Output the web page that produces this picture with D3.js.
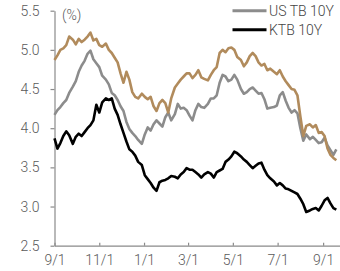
<!DOCTYPE html>
<html><head><meta charset="utf-8">
<script src="https://cdn.jsdelivr.net/npm/d3@7"></script>
<style>
html,body{margin:0;padding:0;background:#fff;}
svg{display:block;}
</style></head>
<body>
<svg id="chart" width="340" height="271"></svg>
<script>
const dates = ["2023-09-01","2023-09-05","2023-09-09","2023-09-13","2023-09-17","2023-09-21","2023-09-26","2023-09-30","2023-10-04","2023-10-08","2023-10-12","2023-10-16","2023-10-20","2023-10-24","2023-10-28","2023-11-01","2023-11-05","2023-11-10","2023-11-14","2023-11-18","2023-11-22","2023-11-26","2023-11-30","2023-12-04","2023-12-08","2023-12-12","2023-12-16","2023-12-20","2023-12-24","2023-12-29","2024-01-02","2024-01-06","2024-01-10","2024-01-14","2024-01-18","2024-01-22","2024-01-26","2024-01-30","2024-02-03","2024-02-07","2024-02-12","2024-02-16","2024-02-20","2024-02-24","2024-02-28","2024-03-03","2024-03-07","2024-03-11","2024-03-15","2024-03-19","2024-03-23","2024-03-28","2024-04-01","2024-04-05","2024-04-09","2024-04-13","2024-04-17","2024-04-21","2024-04-25","2024-04-29","2024-05-03","2024-05-07","2024-05-12","2024-05-16","2024-05-20","2024-05-24","2024-05-28","2024-06-01","2024-06-05","2024-06-09","2024-06-13","2024-06-17","2024-06-21","2024-06-26","2024-06-30","2024-07-04","2024-07-08","2024-07-12","2024-07-16","2024-07-20","2024-07-24","2024-07-28","2024-08-01","2024-08-05","2024-08-09","2024-08-14","2024-08-18","2024-08-22","2024-08-26","2024-08-30","2024-09-03","2024-09-07","2024-09-11","2024-09-15","2024-09-19"];

const usTb10y = [4.17,4.23,4.27,4.32,4.36,4.45,4.53,4.60,4.72,4.80,4.86,4.95,4.99,4.88,4.83,4.78,4.67,4.62,4.56,4.45,4.42,4.36,4.28,4.22,4.08,3.99,3.94,3.90,3.85,3.80,3.92,4.01,3.97,4.05,4.10,4.06,4.02,4.14,4.20,4.10,4.18,4.31,4.25,4.26,4.23,4.16,4.10,4.23,4.31,4.27,4.26,4.31,4.38,4.38,4.42,4.58,4.68,4.66,4.60,4.62,4.68,4.62,4.50,4.44,4.46,4.50,4.52,4.48,4.44,4.45,4.37,4.25,4.26,4.27,4.29,4.42,4.46,4.35,4.26,4.20,4.23,4.19,4.00,3.84,3.92,3.86,3.89,3.85,3.81,3.82,3.88,3.78,3.72,3.66,3.73];

const usTb2y = [4.87,4.93,5.00,5.02,5.06,5.17,5.13,5.07,5.14,5.10,5.13,5.17,5.22,5.12,5.14,5.06,5.04,5.08,5.00,4.96,4.90,4.84,4.70,4.58,4.72,4.62,4.46,4.40,4.38,4.44,4.40,4.37,4.40,4.28,4.22,4.32,4.36,4.32,4.20,4.38,4.52,4.57,4.62,4.66,4.70,4.70,4.64,4.68,4.74,4.65,4.63,4.61,4.68,4.74,4.78,4.96,5.00,4.97,5.02,5.03,5.00,4.91,4.87,4.79,4.84,4.92,4.96,4.92,4.84,4.80,4.82,4.74,4.76,4.72,4.69,4.74,4.66,4.60,4.55,4.50,4.49,4.42,4.15,3.90,4.03,4.05,4.01,4.04,3.94,3.95,3.90,3.74,3.66,3.62,3.59];

const ktb10y = [3.87,3.74,3.81,3.90,3.96,3.91,3.80,3.89,3.93,3.90,3.95,4.00,4.04,4.10,4.30,4.20,4.33,4.38,4.36,4.38,4.25,4.17,4.05,3.94,3.83,3.73,3.70,3.65,3.57,3.53,3.40,3.35,3.30,3.24,3.20,3.31,3.33,3.34,3.36,3.39,3.38,3.36,3.41,3.44,3.49,3.47,3.47,3.44,3.41,3.37,3.41,3.44,3.42,3.37,3.44,3.46,3.48,3.57,3.60,3.64,3.70,3.68,3.64,3.60,3.57,3.53,3.49,3.52,3.55,3.56,3.47,3.40,3.36,3.32,3.27,3.30,3.27,3.23,3.22,3.20,3.18,3.16,3.10,3.03,2.93,2.95,2.97,2.98,2.95,3.01,3.08,3.11,3.04,2.98,2.96];

const yTicks = [2.5, 3.0, 3.5, 4.0, 4.5, 5.0, 5.5];
const xTickDates = ["2023-09-01","2023-11-01","2024-01-01","2024-03-01","2024-05-01","2024-07-01","2024-09-01"];
const legendLabels = ["US TB 10Y", "KTB 10Y"];
const unitLabel = "(%)";

const parse = d3.timeParse("%Y-%m-%d");
const svg = d3.select("#chart");
const FONT = "Roboto, 'Noto Sans', sans-serif";

const x = d3.scaleTime()
  .domain([parse("2023-09-01"), parse("2024-09-24")])
  .range([54.5, 340]);
const y = d3.scaleLinear().domain([2.5, 5.5]).range([245.7, 10.7]);

// axes
const yAxis = d3.axisLeft(y).tickValues(yTicks).tickFormat(d3.format(".1f"))
  .tickSizeInner(4).tickSizeOuter(0).tickPadding(11);
const gy = svg.append("g").attr("transform", "translate(54.5,0)").call(yAxis);

const xAxis = d3.axisBottom(x).tickValues(xTickDates.map(parse))
  .tickFormat(d => (d.getMonth() + 1) + "/" + d.getDate())
  .tickSizeInner(-3).tickSizeOuter(0).tickPadding(9);
const gx = svg.append("g").attr("transform", "translate(0,245.7)").call(xAxis);

[gy, gx].forEach(g => {
  g.select(".domain").attr("stroke", "#8a8a8a").attr("stroke-width", 1.2);
  g.selectAll(".tick line").attr("stroke", "#8a8a8a").attr("stroke-width", 1.2);
  g.selectAll(".tick text").attr("fill", "#5a5a5a")
    .style("font-family", FONT).style("font-size", "14px").style("font-weight", 300);
});

// lines
const series = [
  {vals: usTb10y, color: "#8c8c8c"},
  {vals: usTb2y, color: "#b18b5c"},
  {vals: ktb10y, color: "#000000"}
];
const line = d3.line().x((d, i) => x(parse(dates[i]))).y(d => y(d)).curve(d3.curveLinear);
series.forEach(s => {
  svg.append("path").datum(s.vals)
    .attr("fill", "none").attr("stroke", s.color).attr("stroke-width", 2.6)
    .attr("stroke-linejoin", "round").attr("d", line);
});

// unit label
svg.append("text").attr("x", 62).attr("y", 20).text(unitLabel)
  .attr("fill", "#5a5a5a").style("font-family", FONT).style("font-size", "14px").style("font-weight", 300);

// legend
const legendColors = ["#8c8c8c", "#000000"];
legendLabels.forEach((lab, i) => {
  const ly = 10.7 + i * 19;
  svg.append("line").attr("x1", 232.5).attr("x2", 266.5).attr("y1", ly).attr("y2", ly)
    .attr("stroke", legendColors[i]).attr("stroke-width", 3);
  svg.append("text").attr("x", 269).attr("y", ly).attr("dy", "0.36em").text(lab)
    .attr("fill", "#444").style("font-family", FONT).style("font-size", "14px").style("font-weight", 300);
});
</script>
</body></html>
